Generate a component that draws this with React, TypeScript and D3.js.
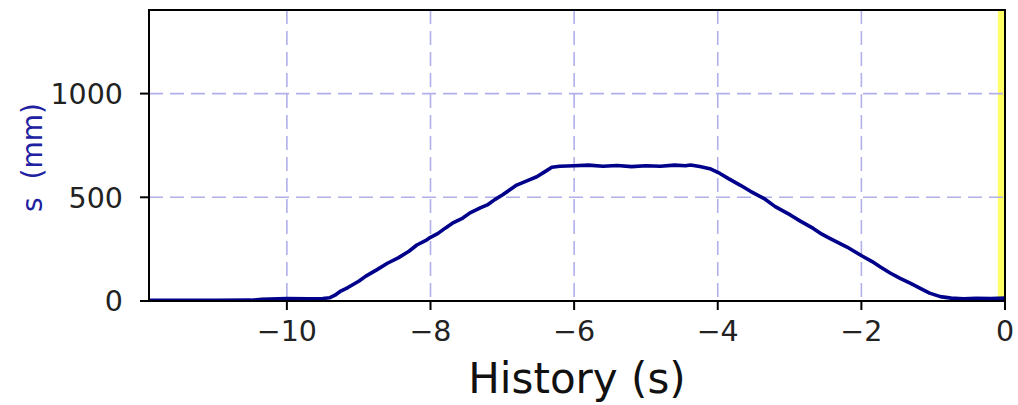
import React from "react";
import * as d3 from "d3";

const timeS = [
  -11.92, -11.0, -10.5, -10.35, -10.0, -9.7, -9.5, -9.4, -9.33, -9.25, -9.15, -9.0, -8.9, -8.75, -8.6, -8.45,
  -8.3, -8.19, -8.05, -8.0, -7.9, -7.8, -7.68, -7.55, -7.45, -7.3, -7.2, -7.1, -7.0, -6.9, -6.8, -6.65,
  -6.52, -6.4, -6.31, -6.2, -6.0, -5.8, -5.6, -5.4, -5.2, -5.0, -4.8, -4.6, -4.45, -4.38, -4.25, -4.11,
  -3.97, -3.85, -3.69, -3.55, -3.36, -3.2, -2.99, -2.85, -2.67, -2.55, -2.44, -2.2, -1.99, -1.85, -1.74,
  -1.6, -1.46, -1.3, -1.18, -1.05, -0.9, -0.75, -0.58, -0.4, -0.2, 0,
];
const sMm = [
  3, 3, 4, 8, 12, 11, 12, 16, 28, 48, 65, 95, 120, 150, 182, 208,
  240, 270, 295, 307, 325, 350, 378, 400, 425, 450, 465, 490, 511, 535, 559, 580,
  599, 625, 645, 650, 652, 655, 650, 653, 648, 652, 650, 655, 652, 656, 648, 638,
  615, 590, 559, 530, 495, 455, 415, 385, 350, 322, 302, 260, 217, 190, 165,
  135, 109, 82, 61, 38, 21, 14, 11, 13, 12, 14,
];
const xTicks = [-10, -8, -6, -4, -2, 0];
const xTickLabels = ["\u221210", "\u22128", "\u22126", "\u22124", "\u22122", "0"];
const yTicks = [0, 500, 1000];
const yTickLabels = ["0", "500", "1000"];
const xDomain = [-11.92, 0];
const yDomain = [0, 1403];
const highlightSpan = [-0.1, 0];
const xLabel = "History (s)";
const yLabel = "s\u00a0\u00a0(mm)";

export default function App() {
  const W = 1018, H = 405;
  const L = 149, R = 1005, T = 10, B = 301;
  const x = d3.scaleLinear().domain(xDomain).range([L, R]);
  const y = d3.scaleLinear().domain(yDomain).range([B, T]);
  const line = d3.line<number>().x((_, i) => x(timeS[i])).y((d) => y(d));
  const font = "DejaVu Sans, sans-serif";
  return (
    <svg width={W} height={H} style={{ position: "absolute", left: 0, top: 0, background: "#fff" }} fontFamily={font}>
      <defs>
        <clipPath id="plot">
          <rect x={L} y={T} width={R - L} height={B - T} />
        </clipPath>
      </defs>
      <rect x={x(highlightSpan[0])} y={T} width={x(highlightSpan[1]) - x(highlightSpan[0])} height={B - T} fill="#ffff66" />
      {xTicks.map((t) => (
        <line key={"gx" + t} x1={x(t)} x2={x(t)} y1={T} y2={B} stroke="#b0b0ea" strokeWidth={1.6} strokeDasharray="14,7" />
      ))}
      {yTicks.map((t) => (
        <line key={"gy" + t} x1={L} x2={R} y1={y(t)} y2={y(t)} stroke="#b0b0ea" strokeWidth={1.6} strokeDasharray="14,7" />
      ))}
      <path d={line(sMm) || ""} fill="none" stroke="#00008b" strokeWidth={3.6} strokeLinejoin="round" clipPath="url(#plot)" />
      <rect x={L} y={T} width={R - L} height={B - T} fill="none" stroke="#000" strokeWidth={2} />
      {xTicks.map((t, i) => (
        <g key={"xt" + t}>
          <line x1={x(t)} x2={x(t)} y1={B} y2={B + 9} stroke="#000" strokeWidth={2} />
          <text x={x(t)} y={B + 40} textAnchor="middle" fontSize={28.5} fill="#222">{xTickLabels[i]}</text>
        </g>
      ))}
      {yTicks.map((t, i) => (
        <g key={"yt" + t}>
          <line x1={L - 9} x2={L} y1={y(t)} y2={y(t)} stroke="#000" strokeWidth={2} />
          <text x={L - 26} y={y(t)} dy="0.36em" textAnchor="end" fontSize={28.5} fill="#222">{yTickLabels[i]}</text>
        </g>
      ))}
      <text x={(L + R) / 2} y={393} textAnchor="middle" fontSize={42} fill="#111">{xLabel}</text>
      <text transform={`translate(42,${(T + B) / 2 + 2}) rotate(-90)`} textAnchor="middle" fontSize={28} fill="#2020a0">{yLabel}</text>
    </svg>
  );
}
